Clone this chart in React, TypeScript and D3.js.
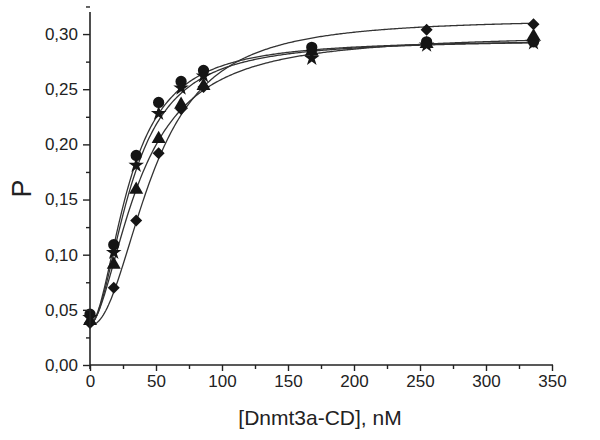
import React, { useEffect, useRef } from "react";
import * as d3 from "d3";

// concentrations of Dnmt3a-CD, nM
const conc = [0, 18, 35, 52, 69, 86, 168, 255, 336];

// measured P values per series
const circleVals = [0.046, 0.109, 0.19, 0.238, 0.257, 0.267, 0.288, 0.293, 0.293];
const starVals = [0.043, 0.102, 0.181, 0.228, 0.251, 0.262, 0.278, 0.29, 0.292];
const triangleVals = [0.04, 0.091, 0.159, 0.205, 0.236, 0.253, 0.284, 0.291, 0.298];
const diamondVals = [0.038, 0.07, 0.131, 0.192, 0.232, 0.252, 0.285, 0.304, 0.309];

// fitted Hill curves: [P0, Pmax, K, n]
const circleFit = [0.037, 0.295, 30, 1.9];
const starFit = [0.037, 0.295, 32, 1.9];
const triangleFit = [0.037, 0.3, 38, 1.75];
const diamondFit = [0.036, 0.314, 48, 2.15];

const xTicks = [0, 50, 100, 150, 200, 250, 300, 350];
const yTicks = [0, 0.05, 0.1, 0.15, 0.2, 0.25, 0.3];

const series = [
  { name: "circle", vals: circleVals, fit: circleFit, symbol: d3.symbolCircle, size: 100, rot: 0 },
  { name: "star", vals: starVals, fit: starFit, symbol: d3.symbolStar, size: 75, rot: 0 },
  { name: "triangle", vals: triangleVals, fit: triangleFit, symbol: d3.symbolTriangle, size: 85, rot: 0 },
  { name: "diamond", vals: diamondVals, fit: diamondFit, symbol: d3.symbolSquare, size: 72, rot: 45 },
];

const fmt = (v: number) => v.toFixed(2).replace(".", ",");

export default function App() {
  const ref = useRef<SVGSVGElement>(null);

  useEffect(() => {
    const svg = d3.select(ref.current);
    svg.selectAll("*").remove();
    const font = "'Liberation Sans', Arial, sans-serif";
    const ink = "#222";

    const x = d3.scaleLinear().domain([0, 350]).range([90, 552]);
    const y = d3.scaleLinear().domain([0, 0.32]).range([365, 12]);

    // fitted curves
    const line = d3.line<number>().x((d) => x(d));
    series.forEach((s) => {
      const [p0, pmax, k, n] = s.fit;
      const hill = (c: number) => p0 + (pmax - p0) * (Math.pow(c, n) / (Math.pow(k, n) + Math.pow(c, n)));
      const xs = d3.range(0, conc[conc.length - 1] + 0.5, 1);
      svg
        .append("path")
        .attr("d", line.y((c) => y(hill(c)))(xs))
        .attr("fill", "none")
        .attr("stroke", "#333")
        .attr("stroke-width", 1.3);
    });

    // markers
    series.forEach((s) => {
      const sym = d3.symbol().type(s.symbol).size(s.size);
      svg
        .append("g")
        .selectAll("path")
        .data(s.vals)
        .enter()
        .append("path")
        .attr("d", sym())
        .attr("transform", (d, i) => `translate(${x(conc[i])},${y(d)}) rotate(${s.rot})`)
        .attr("fill", "#151515");
    });

    // axes
    const xAxis = svg.append("g").attr("transform", `translate(0,${y(0)})`);
    xAxis
      .call(
        d3
          .axisBottom(x)
          .tickValues(d3.range(0, 351, 25))
          .tickSize(4)
          .tickFormat((d) => (xTicks.includes(+d) ? String(d) : ""))
      )
      .call((g) => g.select(".domain").attr("stroke", ink).attr("stroke-width", 1.6).attr("d", `M${x(0)},0H${x(350) + 1}`));
    xAxis.selectAll(".tick line").attr("stroke", ink).attr("stroke-width", 1.4).attr("y2", (d: any) => (xTicks.includes(+d) ? 6 : 4));
    xAxis.selectAll("text").attr("font-family", font).attr("font-size", 17).attr("fill", ink).attr("dy", "0.9em");

    const yAxis = svg.append("g").attr("transform", `translate(${x(0)},0)`);
    yAxis
      .call(
        d3
          .axisLeft(y)
          .tickValues(d3.range(0, 0.326, 0.025))
          .tickSize(4)
          .tickFormat((d) => (yTicks.some((t) => Math.abs(t - +d) < 1e-6) ? fmt(+d) : ""))
      )
      .call((g) => g.select(".domain").attr("stroke", ink).attr("stroke-width", 1.6).attr("d", `M0,${y(0) + 4}V${y(0.32)}`));
    yAxis
      .selectAll(".tick line")
      .attr("stroke", ink)
      .attr("stroke-width", 1.4)
      .attr("x2", (d: any) => (yTicks.some((t) => Math.abs(t - d) < 1e-6) ? -7 : -4));
    yAxis.selectAll("text").attr("font-family", font).attr("font-size", 17).attr("fill", ink).attr("x", -12);

    // axis titles
    svg
      .append("text")
      .attr("x", 320)
      .attr("y", 425)
      .attr("text-anchor", "middle")
      .attr("font-family", font)
      .attr("font-size", 21)
      .attr("fill", ink)
      .text("[Dnmt3a-CD], nM");

    svg
      .append("text")
      .attr("transform", `translate(31,${y(0.16)}) rotate(-90)`)
      .attr("text-anchor", "middle")
      .attr("font-family", font)
      .attr("font-size", 27)
      .attr("fill", ink)
      .text("P");
  }, []);

  return (
    <svg
      ref={ref}
      width={600}
      height={440}
      style={{ position: "absolute", left: 0, top: 0, background: "#fff" }}
    />
  );
}
